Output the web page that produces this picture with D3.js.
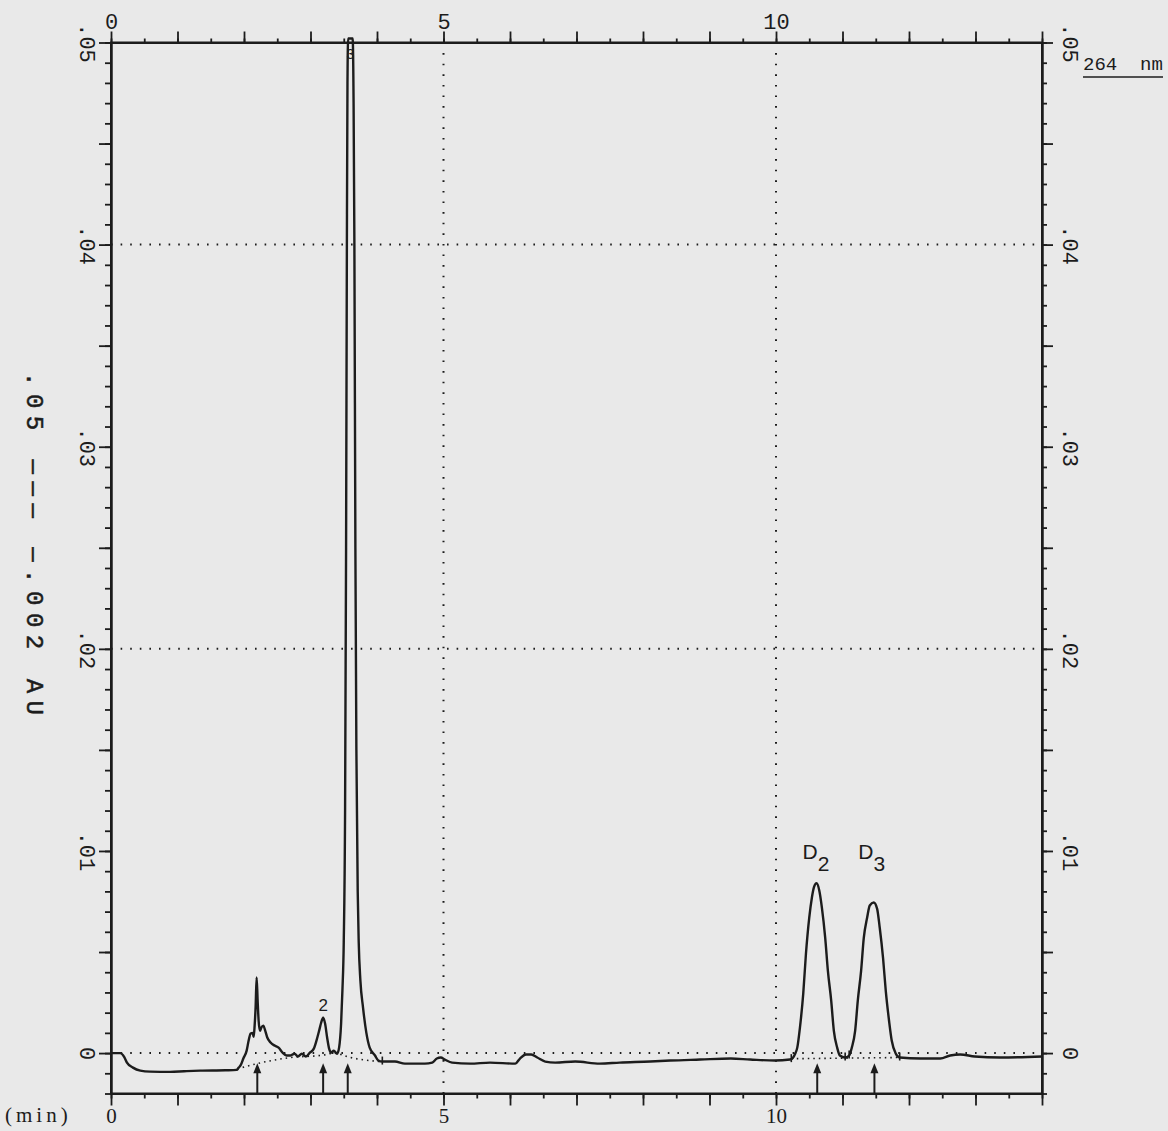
<!DOCTYPE html>
<html>
<head>
<meta charset="utf-8">
<script src="https://cdn.jsdelivr.net/npm/d3@7"></script>
<style>
  body { margin: 0; background: #e9e9e9; }
  svg { display: block; }
</style>
</head>
<body>
<svg id="root" width="1168" height="1131"></svg>
<script>
var d3 = window.d3

const width = 1168
const height = 1131

// retention time (min) and absorbance (mAU, i.e. 0.001 AU) of the 264 nm trace
const traceTime = [
  0, 0.14, 0.2, 0.24, 0.33, 0.44, 0.59, 0.89, 1.10, 1.34, 1.72, 1.89,
  1.92, 1.95, 1.99, 2.04, 2.07, 2.10, 2.13, 2.145, 2.16, 2.175, 2.19, 2.205,
  2.22, 2.24, 2.26, 2.29, 2.32, 2.35, 2.40, 2.46, 2.52, 2.58, 2.64, 2.70,
  2.76, 2.81, 2.87, 2.93, 2.99, 3.05, 3.09, 3.13, 3.16, 3.19, 3.22, 3.25,
  3.28, 3.31, 3.35, 3.40, 3.43, 3.46, 3.48, 3.50, 3.52, 3.535, 3.547, 3.556,
  3.566, 3.634, 3.648, 3.66, 3.675, 3.69, 3.71, 3.725, 3.75, 3.79, 3.84, 3.89,
  3.97, 4.02, 4.08, 4.27, 4.42, 4.72, 4.83, 4.90, 4.96, 5.02, 5.13, 5.40,
  5.70, 6.08, 6.15, 6.24, 6.32, 6.41, 6.53, 6.68, 6.98, 7.35, 7.65, 8.11,
  8.41, 8.86, 9.32, 9.61, 9.98, 10.21, 10.25, 10.29, 10.32, 10.36, 10.41, 10.45,
  10.50, 10.54, 10.57, 10.61, 10.65, 10.69, 10.74, 10.78, 10.83, 10.87, 10.92, 10.96,
  11.04, 11.10, 11.14, 11.19, 11.23, 11.28, 11.32, 11.37, 11.41, 11.47, 11.52, 11.56,
  11.61, 11.65, 11.70, 11.74, 11.80, 11.86, 12.17, 12.47, 12.62, 12.77, 12.99, 13.37,
  14
]
const traceMAU = [
  0, 0, -0.2, -0.47, -0.72, -0.87, -0.92, -0.93, -0.9, -0.87, -0.85, -0.83,
  -0.72, -0.6, -0.27, 0.12, 0.62, 0.97, 1.0, 0.8, 1.36, 2.3, 3.74, 2.6,
  1.6, 1.1, 1.26, 1.36, 1.1, 0.77, 0.52, 0.37, 0.27, 0.02, -0.12, -0.12,
  -0.03, -0.17, -0.03, -0.17, 0.02, 0.22, 0.62, 1.11, 1.5, 1.75, 1.45, 0.77,
  0.22, 0.02, 0.12, -0.03, 0.27, 1.45, 3.1, 5.5, 12, 25, 40, 48,
  50.2, 50.2, 47, 40, 25, 15, 8, 5.5, 3.6, 2.25, 1.0, 0.27,
  -0.12, -0.37, -0.42, -0.42, -0.52, -0.52, -0.47, -0.27, -0.22, -0.32, -0.47, -0.52,
  -0.47, -0.52, -0.27, -0.07, -0.07, -0.22, -0.42, -0.47, -0.42, -0.52, -0.47, -0.42,
  -0.37, -0.32, -0.27, -0.32, -0.37, -0.32, -0.25, -0.02, 0.27, 1.26, 2.95, 4.9,
  6.7, 7.7, 8.2, 8.4, 8.06, 7.2, 5.7, 4.08, 2.6, 1.1, 0.27, -0.12,
  -0.22, -0.12, 0.27, 1.1, 2.6, 4.08, 5.7, 6.7, 7.3, 7.45, 7.15, 6.2,
  4.7, 3.1, 1.6, 0.62, -0.02, -0.22, -0.27, -0.27, -0.12, -0.07, -0.17, -0.22,
  -0.17
]

// integration baselines (dotted)
const baseATime = [1.90, 2.20, 2.70, 3.19, 3.35, 3.60, 4.08]
const baseAMAU = [-0.78, -0.52, -0.22, -0.1, 0, -0.22, -0.43]
const baseBTime = [10.23, 11.86]
const baseBMAU = [-0.28, -0.22]

// little integration marks on the trace
const markTime = [4.08, 10.23, 11.04, 11.10, 11.86]
const markMAU = [-0.42, -0.3, -0.22, -0.12, -0.22]

// arrows under the peaks
const arrowTime = [2.20, 3.19, 3.56, 10.62, 11.48]

// peak labels
const peakName = ['2', '3', 'D', 'D']
const peakSub = ['', '', '2', '3']
const peakTime = [3.19, 3.6, 10.60, 11.44]
const peakLabelMAU = [2.1, 49.2, 9.6, 9.6]

// axes
const xLabelValues = [0, 5, 10]
const yLabelValues = [0, 10, 20, 30, 40, 50]
const yLabels = ['0', '.01', '.02', '.03', '.04', '.05']
const xGrid = [5, 10]
const yGrid = [0, 20, 40]

const ink = '#1c1c1c'
const mono = "'Liberation Mono', 'DejaVu Sans Mono', monospace"
const serif = "'Liberation Serif', 'DejaVu Serif', serif"
const sans = "'Liberation Sans', 'DejaVu Sans', sans-serif"

const L = 111
const R = 1042
const T = 42.5
const B = 1093.5

const xScale = d3.scaleLinear().domain([0, 14]).range([L, R])
const yScale = d3.scaleLinear().domain([-2, 50]).range([B, T])

const svg = d3.select('#root')

svg.append('rect')
  .attr('width', width)
  .attr('height', height)
  .attr('fill', '#e9e9e9')

// dotted grid
svg.selectAll('line.gx')
  .data(xGrid)
  .enter()
  .append('line')
  .attr('class', 'gx')
  .attr('x1', d => xScale(d))
  .attr('x2', d => xScale(d))
  .attr('y1', T)
  .attr('y2', B)
  .attr('stroke', ink)
  .attr('stroke-width', 2)
  .attr('stroke-dasharray', '1.6 9')

svg.selectAll('line.gy')
  .data(yGrid)
  .enter()
  .append('line')
  .attr('class', 'gy')
  .attr('x1', L)
  .attr('x2', R)
  .attr('y1', d => yScale(d))
  .attr('y2', d => yScale(d))
  .attr('stroke', ink)
  .attr('stroke-width', 2)
  .attr('stroke-dasharray', '1.6 8')

const styleAxis = g => {
  g.attr('font-family', null).attr('font-size', null)
  g.selectAll('.domain').attr('stroke', ink).attr('stroke-width', 2)
  g.selectAll('.tick line').attr('stroke', ink).attr('stroke-width', 1.8)
  g.selectAll('.tick text').attr('fill', ink)
}

const yFmt = d => {
  const i = yLabelValues.indexOf(d)
  return i < 0 ? '' : yLabels[i]
}
const xFmt = d => (xLabelValues.indexOf(d) < 0 ? '' : d)

// left axis
svg.append('g')
  .attr('transform', `translate(${L},0)`)
  .call(d3.axisLeft(yScale).tickValues(yScale.ticks(52)).tickSize(6).tickSizeOuter(0).tickFormat(''))
  .call(styleAxis)
svg.append('g')
  .attr('transform', `translate(${L},0)`)
  .call(d3.axisLeft(yScale).tickValues(yScale.ticks(10)).tickSize(12).tickSizeOuter(0).tickFormat(yFmt))
  .call(styleAxis)
  .selectAll('.tick text')
  .attr('x', 0)
  .attr('dy', 0)
  .attr('text-anchor', 'middle')
  .attr('dominant-baseline', 'central')
  .attr('transform', 'translate(-26,0) rotate(90)')
  .attr('font-family', mono)
  .attr('font-size', 22)

// right axis
svg.append('g')
  .attr('transform', `translate(${R},0)`)
  .call(d3.axisRight(yScale).tickValues(yScale.ticks(52)).tickSize(5).tickSizeOuter(0).tickFormat(''))
  .call(styleAxis)
svg.append('g')
  .attr('transform', `translate(${R},0)`)
  .call(d3.axisRight(yScale).tickValues(yScale.ticks(10)).tickSize(11).tickSizeOuter(0).tickFormat(yFmt))
  .call(styleAxis)
  .selectAll('.tick text')
  .attr('x', 0)
  .attr('dy', 0)
  .attr('text-anchor', 'middle')
  .attr('dominant-baseline', 'central')
  .attr('transform', 'translate(26,0) rotate(90)')
  .attr('font-family', mono)
  .attr('font-size', 22)

// top axis
svg.append('g')
  .attr('transform', `translate(0,${T})`)
  .call(d3.axisTop(xScale).tickValues(xScale.ticks(28)).tickSize(4).tickSizeOuter(0).tickFormat(''))
  .call(styleAxis)
svg.append('g')
  .attr('transform', `translate(0,${T})`)
  .call(d3.axisTop(xScale).tickValues(xScale.ticks(14)).tickSize(11).tickPadding(3).tickSizeOuter(0).tickFormat(xFmt))
  .call(styleAxis)
  .selectAll('.tick text')
  .attr('font-family', mono)
  .attr('font-size', 22)

// bottom axis
svg.append('g')
  .attr('transform', `translate(0,${B})`)
  .call(d3.axisBottom(xScale).tickValues(xScale.ticks(28)).tickSize(5).tickSizeOuter(0).tickFormat(''))
  .call(styleAxis)
svg.append('g')
  .attr('transform', `translate(0,${B})`)
  .call(d3.axisBottom(xScale).tickValues(xScale.ticks(14)).tickSize(12).tickSizeOuter(0).tickFormat(xFmt))
  .call(styleAxis)
  .selectAll('.tick text')
  .attr('y', 29)
  .attr('dy', 0)
  .attr('font-family', serif)
  .attr('font-size', 21)

// frame corners
svg.append('rect')
  .attr('x', L)
  .attr('y', T)
  .attr('width', R - L)
  .attr('height', B - T)
  .attr('fill', 'none')
  .attr('stroke', ink)
  .attr('stroke-width', 2)

// integration baselines
const line = d3.line()
  .x(d => xScale(d[0]))
  .y(d => yScale(d[1]))
  .curve(d3.curveMonotoneX)

svg.append('path')
  .datum(d3.zip(baseATime, baseAMAU))
  .attr('d', line)
  .attr('fill', 'none')
  .attr('stroke', ink)
  .attr('stroke-width', 1.6)
  .attr('stroke-dasharray', '1.5 4')
svg.append('path')
  .datum(d3.zip(baseBTime, baseBMAU))
  .attr('d', line)
  .attr('fill', 'none')
  .attr('stroke', ink)
  .attr('stroke-width', 1.6)
  .attr('stroke-dasharray', '1.5 4')

// the trace
svg.append('path')
  .datum(d3.zip(traceTime, traceMAU))
  .attr('d', line)
  .attr('fill', 'none')
  .attr('stroke', ink)
  .attr('stroke-width', 2.4)
  .attr('stroke-linejoin', 'round')

svg.selectAll('line.mark')
  .data(d3.zip(markTime, markMAU))
  .enter()
  .append('line')
  .attr('class', 'mark')
  .attr('x1', d => xScale(d[0]))
  .attr('x2', d => xScale(d[0]))
  .attr('y1', d => yScale(d[1]) + 3)
  .attr('y2', d => yScale(d[1]) - 5)
  .attr('stroke', ink)
  .attr('stroke-width', 1.6)

// arrows
const arrowTip = yScale(-0.5)
svg.selectAll('line.arrow')
  .data(arrowTime)
  .enter()
  .append('line')
  .attr('class', 'arrow')
  .attr('x1', d => xScale(d))
  .attr('x2', d => xScale(d))
  .attr('y1', B)
  .attr('y2', arrowTip + 4)
  .attr('stroke', ink)
  .attr('stroke-width', 2)
svg.selectAll('path.head')
  .data(arrowTime)
  .enter()
  .append('path')
  .attr('class', 'head')
  .attr('d', d => `M${xScale(d) - 4},${arrowTip + 10}L${xScale(d)},${arrowTip}L${xScale(d) + 4},${arrowTip + 10}Z`)
  .attr('fill', ink)

// peak labels
const labels = svg.selectAll('text.peak')
  .data(d3.range(peakName.length))
  .enter()
  .append('text')
  .attr('class', 'peak')
  .attr('x', i => xScale(peakTime[i]))
  .attr('y', i => yScale(peakLabelMAU[i]))
  .attr('text-anchor', 'middle')
  .attr('font-family', sans)
  .attr('font-size', i => (i === 0 ? 17 : i === 1 ? 14 : 21))
  .attr('fill', ink)
  .text(i => peakName[i])
labels.filter(i => peakSub[i] !== '')
  .append('tspan')
  .attr('dy', 12)
  .text(i => peakSub[i])

// range label on the left
svg.append('text')
  .attr('transform', 'translate(33,372) rotate(90)')
  .attr('dominant-baseline', 'central')
  .attr('font-family', mono)
  .attr('font-size', 24)
  .attr('letter-spacing', 7.5)
  .attr('fill', ink)
  .attr('stroke', ink)
  .attr('stroke-width', 0.5)
  .text('.05 ——— —.002 AU')

// wavelength
svg.append('text')
  .attr('x', 1083)
  .attr('y', 70)
  .attr('font-family', mono)
  .attr('font-size', 19)
  .attr('fill', ink)
  .style('white-space', 'pre')
  .text('264  nm')
svg.append('line')
  .attr('x1', 1083)
  .attr('x2', 1163)
  .attr('y1', 77)
  .attr('y2', 77)
  .attr('stroke', ink)
  .attr('stroke-width', 1.6)

// time unit
svg.append('text')
  .attr('x', 5)
  .attr('y', 1122)
  .attr('font-family', serif)
  .attr('font-size', 21)
  .attr('letter-spacing', 4)
  .attr('fill', ink)
  .text('(min)')
</script>
</body>
</html>
